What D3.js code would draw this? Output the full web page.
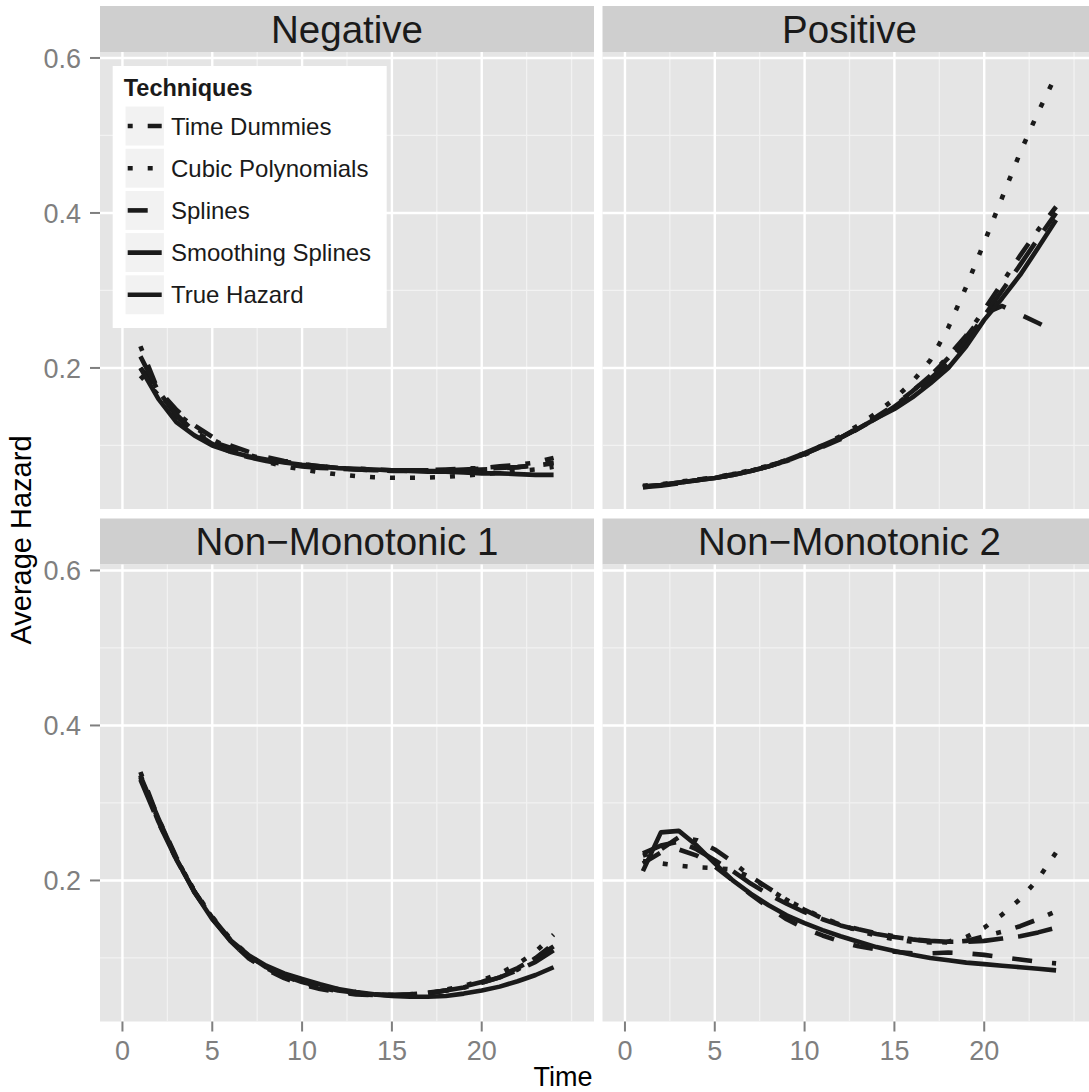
<!DOCTYPE html>
<html>
<head>
<meta charset="utf-8">
<script src="https://cdn.jsdelivr.net/npm/d3@7"></script>
<style>
  html, body { margin: 0; padding: 0; background: #ffffff; }
  svg { display: block; font-family: "Liberation Sans", Arial, Helvetica, sans-serif; }
</style>
</head>
<body>
<svg id="chart" width="1089" height="1092"></svg>
<script>
// ---------------- data ----------------
const time = [1,2,3,4,5,6,7,8,9,10,11,12,13,14,15,16,17,18,19,20,21,22,23,24];
const panelNames = ["Negative", "Positive", "Non\u2212Monotonic 1", "Non\u2212Monotonic 2"];
const techniques = ["Time Dummies", "Cubic Polynomials", "Splines", "Smoothing Splines", "True Hazard"];
const xTicks = [0, 5, 10, 15, 20];
const xMinor = [2.5, 7.5, 12.5, 17.5, 22.5, 25];
const yTicks = [0.2, 0.4, 0.6];
const yMinor = [0.1, 0.3, 0.5];

// Negative
const negTD     = [0.228,0.170,0.140,0.118,0.105,0.097,0.088,0.082,0.079,0.076,0.073,0.071,0.070,0.069,0.068,0.067,0.068,0.069,0.070,0.071,0.073,0.075,0.078,0.084];
const negCubic  = [0.190,0.165,0.142,0.124,0.108,0.096,0.086,0.079,0.073,0.069,0.0656,0.0626,0.0605,0.059,0.0583,0.0583,0.0585,0.0595,0.061,0.063,0.065,0.067,0.069,0.0725];
const negSpl    = [0.200,0.172,0.146,0.126,0.111,0.100,0.092,0.085,0.080,0.076,0.073,0.071,0.069,0.068,0.067,0.067,0.067,0.067,0.068,0.069,0.070,0.072,0.075,0.078];
const negSmooth = [0.215,0.170,0.138,0.117,0.102,0.092,0.085,0.080,0.076,0.073,0.071,0.070,0.069,0.068,0.068,0.068,0.068,0.068,0.069,0.070,0.071,0.072,0.074,0.077];
const negTrue   = [0.200,0.160,0.130,0.113,0.100,0.092,0.086,0.082,0.078,0.075,0.073,0.071,0.070,0.069,0.068,0.067,0.066,0.066,0.065,0.064,0.064,0.063,0.062,0.062];

// Positive
const posTD     = [0.046,0.049,0.052,0.056,0.058,0.063,0.067,0.074,0.080,0.088,0.098,0.108,0.122,0.135,0.150,0.170,0.190,0.215,0.242,0.275,0.310,0.345,0.378,0.408];
const posCubic  = [0.048,0.050,0.053,0.056,0.059,0.063,0.068,0.074,0.081,0.090,0.100,0.112,0.126,0.142,0.160,0.182,0.210,0.252,0.305,0.362,0.420,0.478,0.530,0.578];
const posSpl    = [0.047,0.049,0.052,0.055,0.058,0.062,0.067,0.073,0.080,0.089,0.099,0.110,0.123,0.137,0.152,0.170,0.190,0.213,0.240,0.270,0.280,0.269,0.258,0.246];
const posSmooth = [0.046,0.048,0.051,0.055,0.058,0.062,0.067,0.073,0.080,0.089,0.099,0.110,0.122,0.135,0.150,0.167,0.186,0.207,0.235,0.267,0.300,0.333,0.367,0.400];
const posTrue   = [0.047,0.049,0.052,0.055,0.058,0.062,0.067,0.073,0.081,0.090,0.100,0.110,0.122,0.135,0.147,0.162,0.180,0.200,0.228,0.262,0.290,0.320,0.355,0.391];

// Non-Monotonic 1
const nm1TD     = [0.340,0.280,0.230,0.185,0.152,0.122,0.100,0.087,0.075,0.070,0.062,0.060,0.056,0.053,0.052,0.052,0.054,0.058,0.062,0.068,0.075,0.085,0.100,0.118];
const nm1Cubic  = [0.336,0.278,0.228,0.187,0.153,0.125,0.104,0.088,0.077,0.068,0.062,0.057,0.054,0.052,0.052,0.053,0.055,0.059,0.064,0.071,0.080,0.092,0.108,0.130];
const nm1Spl    = [0.333,0.276,0.227,0.186,0.151,0.122,0.100,0.085,0.074,0.066,0.060,0.056,0.053,0.052,0.052,0.053,0.055,0.058,0.063,0.069,0.077,0.087,0.100,0.115];
const nm1Smooth = [0.330,0.275,0.227,0.186,0.152,0.124,0.103,0.088,0.077,0.069,0.063,0.058,0.055,0.053,0.052,0.053,0.055,0.058,0.062,0.068,0.075,0.084,0.095,0.110];
const nm1True   = [0.335,0.280,0.228,0.185,0.150,0.123,0.104,0.090,0.080,0.073,0.066,0.060,0.056,0.053,0.051,0.050,0.050,0.051,0.054,0.058,0.063,0.070,0.078,0.088];

// Non-Monotonic 2
const nm2TD     = [0.232,0.240,0.256,0.252,0.240,0.224,0.205,0.190,0.175,0.162,0.151,0.143,0.137,0.132,0.128,0.124,0.121,0.120,0.122,0.128,0.134,0.141,0.150,0.160];
const nm2Cubic  = [0.225,0.222,0.219,0.217,0.216,0.214,0.204,0.189,0.175,0.163,0.152,0.143,0.135,0.129,0.124,0.121,0.120,0.121,0.127,0.139,0.156,0.176,0.202,0.236];
const nm2Spl    = [0.222,0.236,0.240,0.232,0.218,0.200,0.182,0.165,0.150,0.138,0.129,0.121,0.115,0.111,0.108,0.106,0.106,0.107,0.106,0.104,0.101,0.098,0.095,0.093];
const nm2Smooth = [0.235,0.245,0.250,0.240,0.226,0.212,0.196,0.182,0.170,0.159,0.150,0.142,0.136,0.131,0.127,0.124,0.122,0.121,0.121,0.122,0.125,0.128,0.133,0.139];
const nm2True   = [0.212,0.262,0.264,0.245,0.222,0.200,0.183,0.168,0.155,0.145,0.136,0.128,0.121,0.114,0.109,0.104,0.100,0.097,0.094,0.092,0.090,0.088,0.086,0.084];

const panelSeries = [
  [negTD, negCubic, negSpl, negSmooth, negTrue],
  [posTD, posCubic, posSpl, posSmooth, posTrue],
  [nm1TD, nm1Cubic, nm1Spl, nm1Smooth, nm1True],
  [nm2TD, nm2Cubic, nm2Spl, nm2Smooth, nm2True]
];

// ---------------- styles ----------------
const lineColor = "#1a1a1a";
const lw = 4.6;
const unit = 5;
const dashPatterns = [[1,3,4,3], [1,3], [4,4], [7,3], null];
const dashStr = p => p ? p.map(d => d * unit).join(",") : null;

const panelW = 494, panelH = 457, stripH = 46;
const panelLefts = [100, 602.5];
const panelTops = [52, 564.5];

const x = d3.scaleLinear().domain([-1.25, 26.25]).range([0, panelW]);
const y = d3.scaleLinear().domain([0.018, 0.6077]).range([panelH, 0]);

const svg = d3.select("#chart");
svg.append("rect").attr("width", 1089).attr("height", 1092).attr("fill", "#ffffff");

const line = d3.line().x((d, i) => x(time[i])).y(d => y(d));

panelNames.forEach((name, pi) => {
  const col = pi % 2, row = Math.floor(pi / 2);
  const g = svg.append("g").attr("transform", `translate(${panelLefts[col]},${panelTops[row]})`);

  // strip
  g.append("rect").attr("x", 0).attr("y", -stripH).attr("width", panelW).attr("height", stripH).attr("fill", "#cfcfcf");
  g.append("text").attr("x", panelW / 2).attr("y", -stripH / 2 + 13.8)
    .attr("text-anchor", "middle").attr("font-size", 38.5).attr("fill", "#1a1a1a").text(name);

  // panel background
  g.append("rect").attr("width", panelW).attr("height", panelH).attr("fill", "#e5e5e5");

  // minor grid
  g.selectAll(".mx").data(xMinor).enter().append("line")
    .attr("x1", d => x(d)).attr("x2", d => x(d)).attr("y1", 0).attr("y2", panelH)
    .attr("stroke", "#f2f2f2").attr("stroke-width", 1.3);
  g.selectAll(".my").data(yMinor).enter().append("line")
    .attr("y1", d => y(d)).attr("y2", d => y(d)).attr("x1", 0).attr("x2", panelW)
    .attr("stroke", "#f2f2f2").attr("stroke-width", 1.3);
  // major grid
  g.selectAll(".Mx").data(xTicks).enter().append("line")
    .attr("x1", d => x(d)).attr("x2", d => x(d)).attr("y1", 0).attr("y2", panelH)
    .attr("stroke", "#ffffff").attr("stroke-width", 2.4);
  g.selectAll(".My").data(yTicks).enter().append("line")
    .attr("y1", d => y(d)).attr("y2", d => y(d)).attr("x1", 0).attr("x2", panelW)
    .attr("stroke", "#ffffff").attr("stroke-width", 2.4);

  // series
  panelSeries[pi].forEach((vals, ti) => {
    const p = g.append("path").datum(vals).attr("d", line)
      .attr("fill", "none").attr("stroke", lineColor).attr("stroke-width", lw)
      .attr("stroke-linecap", "butt").attr("stroke-linejoin", "round");
    if (dashPatterns[ti]) p.attr("stroke-dasharray", dashStr(dashPatterns[ti]));
  });

  // y axis on left column
  if (col === 0) {
    const ax = g.append("g");
    yTicks.forEach(t => {
      ax.append("line").attr("x1", -10).attr("x2", 0).attr("y1", y(t)).attr("y2", y(t))
        .attr("stroke", "#7f7f7f").attr("stroke-width", 2);
      ax.append("text").attr("x", -19).attr("y", y(t) + 9.7).attr("text-anchor", "end")
        .attr("font-size", 27).attr("fill", "#7f7f7f").text(d3.format(".1f")(t));
    });
  }
  // x axis on bottom row
  if (row === 1) {
    const ax = g.append("g");
    xTicks.forEach(t => {
      ax.append("line").attr("x1", x(t)).attr("x2", x(t)).attr("y1", panelH).attr("y2", panelH + 10)
        .attr("stroke", "#7f7f7f").attr("stroke-width", 2);
      ax.append("text").attr("x", x(t)).attr("y", panelH + 38.5).attr("text-anchor", "middle")
        .attr("font-size", 27).attr("fill", "#7f7f7f").text(t);
    });
  }
});

// axis titles
svg.append("text").attr("x", 563).attr("y", 1086).attr("text-anchor", "middle")
  .attr("font-size", 27).attr("fill", "#000000").text("Time");
svg.append("text").attr("transform", "translate(31,540) rotate(-90)").attr("text-anchor", "middle")
  .attr("font-size", 29).attr("fill", "#000000").text("Average Hazard");

// legend
const leg = svg.append("g").attr("transform", "translate(112.7,66)");
leg.append("rect").attr("width", 274).attr("height", 262).attr("fill", "#ffffff");
leg.append("text").attr("x", 11).attr("y", 29.5).attr("font-size", 23.5).attr("font-weight", "bold")
  .attr("fill", "#1a1a1a").text("Techniques");
techniques.forEach((t, i) => {
  const cy = 60 + i * 42.2;
  leg.append("rect").attr("x", 12.3).attr("y", cy - 20).attr("width", 39.4).attr("height", 40)
    .attr("fill", "#f2f2f2").attr("stroke", "#ffffff").attr("stroke-width", 1);
  const l = leg.append("line").attr("x1", 15).attr("x2", 49).attr("y1", cy).attr("y2", cy)
    .attr("stroke", lineColor).attr("stroke-width", lw).attr("stroke-linecap", "butt");
  if (dashPatterns[i]) l.attr("stroke-dasharray", dashStr(dashPatterns[i]));
  leg.append("text").attr("x", 58.3).attr("y", cy + 8.6).attr("font-size", 24)
    .attr("fill", "#1a1a1a").text(t);
});
</script>
</body>
</html>
